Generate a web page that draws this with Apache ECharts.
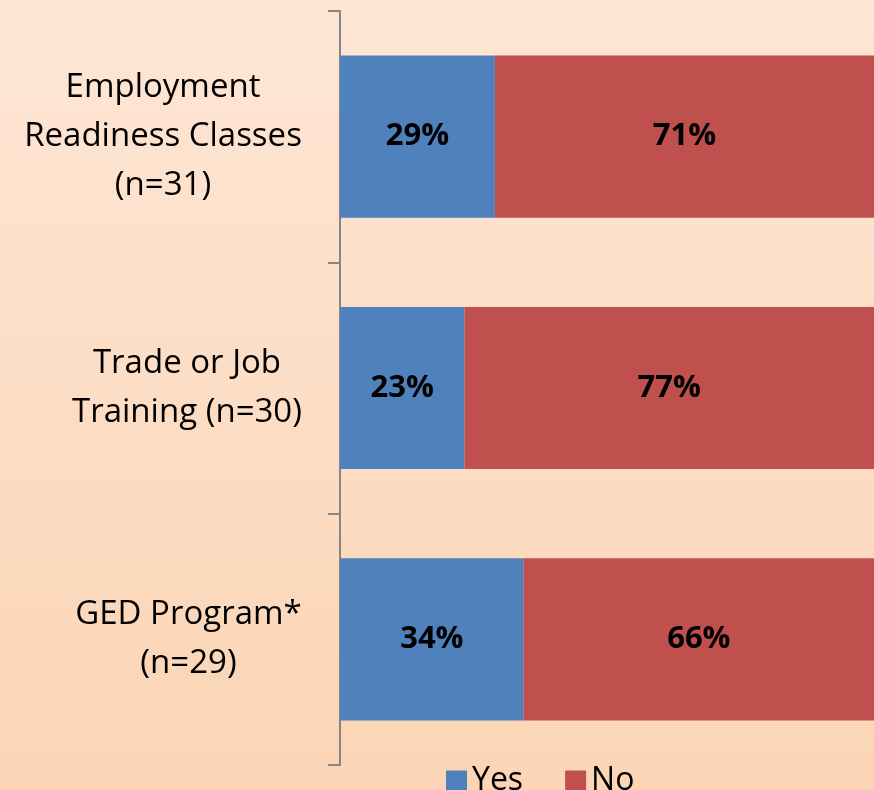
<!DOCTYPE html>
<html>
<head>
<meta charset="utf-8">
<script src="https://cdn.jsdelivr.net/npm/echarts@6/dist/echarts.min.js"></script>
<style>
  html, body { margin: 0; padding: 0; }
  #chart {
    width: 874px;
    height: 790px;
    background: linear-gradient(to bottom, #fee6d5, #fbd5b5);
  }
</style>
</head>
<body>
<div id="chart"></div>
<script>
var categories = [
    "Employment\nReadiness Classes\n(n=31)",
    "Trade or Job\nTraining (n=30)",
    "GED Program*\n(n=29)"
];
var yesValues = [29.0, 23.3, 34.4];
var noValues = [71.0, 76.7, 65.6];
var seriesNames = ["Yes", "No"];

var fontName = "Open Sans";
var labelFont = "33px 'Open Sans'";

// each label is a block of centred lines, block right-aligned to the axis
var ctx = document.createElement("canvas").getContext("2d");
ctx.font = labelFont;
var rich = {};
categories.forEach(function (c, i) {
    var w = 0;
    c.split("\n").forEach(function (line) {
        w = Math.max(w, ctx.measureText(line).width);
    });
    rich["c" + i] = {
        width: Math.ceil(w),
        align: "center",
        fontSize: 33,
        fontFamily: fontName,
        color: "#000",
        lineHeight: 49
    };
});

var chart = echarts.init(document.getElementById("chart"));

var barLabel = {
    show: true,
    position: "inside",
    formatter: function (p) { return Math.round(p.value) + "%"; },
    fontSize: 31,
    fontWeight: "bold",
    fontFamily: fontName,
    color: "#000"
};

var option = {
    backgroundColor: "transparent",
    color: ["#4f81bd", "#c0504d"],
    animation: false,
    grid: {
        left: 340,
        right: -2,
        top: 11,
        bottom: 25
    },
    legend: {
        data: seriesNames,
        left: 441,
        top: 760,
        itemWidth: 21,
        itemHeight: 21,
        itemGap: 42,
        icon: "rect",
        textStyle: {
            fontSize: 32,
            fontFamily: fontName,
            color: "#000"
        }
    },
    xAxis: {
        type: "value",
        min: 0,
        max: 100,
        show: false
    },
    yAxis: {
        type: "category",
        inverse: true,
        data: categories,
        axisLine: {
            show: true,
            lineStyle: { color: "#868686", width: 2 }
        },
        axisTick: {
            show: true,
            length: 12,
            lineStyle: { color: "#868686", width: 2 }
        },
        axisLabel: {
            margin: 38,
            align: "right",
            formatter: function (value, index) {
                return value.split("\n").map(function (line) {
                    return "{c" + index + "|" + line + "}";
                }).join("\n");
            },
            rich: rich
        }
    },
    series: [
        {
            name: seriesNames[0],
            type: "bar",
            stack: "total",
            barCategoryGap: "35.5%",
            data: yesValues,
            label: barLabel
        },
        {
            name: seriesNames[1],
            type: "bar",
            stack: "total",
            barCategoryGap: "35.5%",
            data: noValues,
            label: barLabel
        }
    ]
};
option && chart.setOption(option);
</script>
</body>
</html>
